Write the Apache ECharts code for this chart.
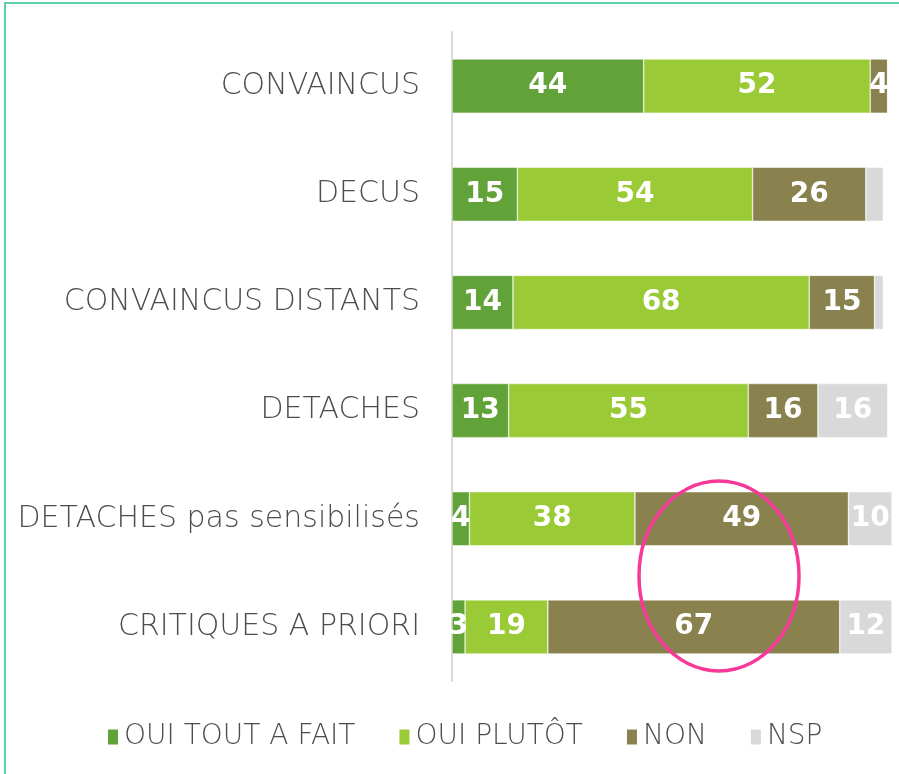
<!DOCTYPE html>
<html>
<head>
<meta charset="utf-8">
<script src="https://cdn.jsdelivr.net/npm/echarts@6/dist/echarts.min.js"></script>
<style>
  html, body { margin: 0; padding: 0; background: #fff; }
  #chart { width: 899px; height: 774px; }
</style>
</head>
<body>
<div id="chart"></div>
<script>
// categories, top to bottom
var categories = ['CONVAINCUS', 'DECUS', 'CONVAINCUS DISTANTS', 'DETACHES', 'DETACHES pas sensibilisés', 'CRITIQUES A PRIORI'];

var seriesNames = ['OUI TOUT A FAIT', 'OUI PLUTÔT', 'NON', 'NSP'];
var ouiToutAFait = [44, 15, 14, 13, 4, 3];
var ouiPlutot = [52, 54, 68, 55, 38, 19];
var non = [4, 26, 15, 16, 49, 67];
var nsp = [0, 4, 2, 16, 10, 12];
// which NSP values carry a label on the original
var nspLabelled = [false, false, false, true, true, true];

var colors = ['#62a339', '#9acb36', '#8a824e', '#d9d9d9'];
var values = [ouiToutAFait, ouiPlutot, non, nsp];

var myChart = echarts.init(document.getElementById('chart'));

var series = values.map(function (vals, i) {
  return {
    name: seriesNames[i],
    type: 'bar',
    stack: 'total',
    barWidth: '50%',
    clip: false,
    itemStyle: { color: colors[i], borderColor: '#fff', borderWidth: 0.5 },
    label: {
      show: true,
      position: 'inside',
      color: '#fff',
      fontFamily: 'DejaVu Sans',
      fontWeight: 'bold',
      fontSize: 28
    },
    data: vals.map(function (v, j) {
      var d = { value: v };
      if (v === 0 || (i === 3 && !nspLabelled[j])) d.label = { show: false };
      return d;
    })
  };
});

myChart.setOption({
  animation: false,
  grid: { left: 452, right: 7, top: 32, height: 649 },
  legend: {
    bottom: 18,
    left: 101,
    itemWidth: 12,
    itemHeight: 17,
    itemGap: 42,
    icon: 'rect',
    textStyle: { color: '#4d4d4d', fontSize: 28, fontFamily: 'DejaVu Sans', fontWeight: 200 },
    data: seriesNames
  },
  xAxis: {
    type: 'value',
    min: 0,
    max: 101,
    show: false
  },
  yAxis: {
    type: 'category',
    inverse: true,
    data: categories,
    axisLine: { show: true, lineStyle: { color: '#d9d9d9', width: 2 } },
    axisTick: { show: false },
    axisLabel: { color: '#4d4d4d', fontSize: 30, fontFamily: 'DejaVu Sans', fontWeight: 200, margin: 32 }
  },
  series: series,
  graphic: [
    {
      type: 'rect',
      shape: { x: 5, y: 3, width: 905, height: 790 },
      style: { fill: 'none', stroke: '#5ccfae', lineWidth: 2 },
      silent: true
    },
    {
      type: 'ellipse',
      shape: { cx: 719, cy: 576, rx: 80, ry: 95 },
      style: { fill: 'none', stroke: '#f7399a', lineWidth: 3.5 },
      z: 100,
      silent: true
    }
  ]
});
</script>
</body>
</html>
